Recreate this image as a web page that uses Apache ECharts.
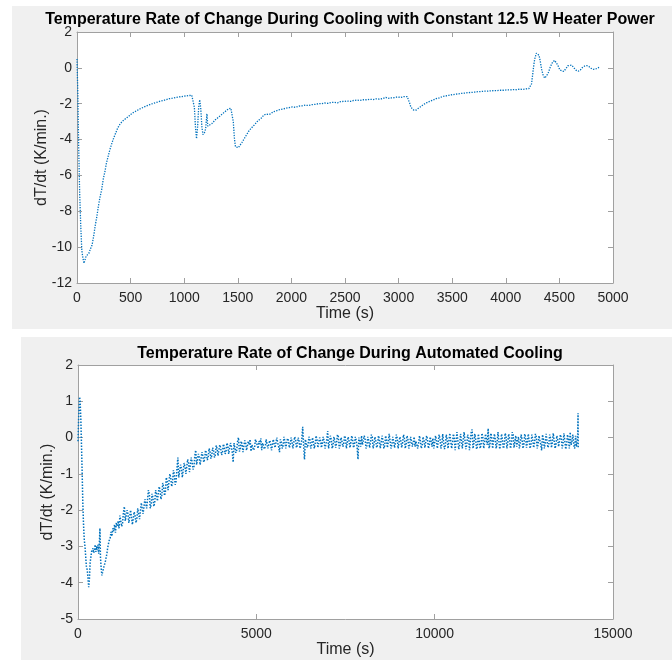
<!DOCTYPE html>
<html>
<head>
<meta charset="utf-8">
<script src="https://cdn.jsdelivr.net/npm/echarts@6/dist/echarts.min.js"></script>
<style>
html,body{margin:0;padding:0;background:#fff;}
#chart{width:672px;height:660px;}
</style>
</head>
<body>
<div id="chart"></div>
<script>
// ---- Data ----
const title1 = "Temperature Rate of Change During Cooling with Constant 12.5 W Heater Power";
const title2 = "Temperature Rate of Change During Automated Cooling";
const xLabel = "Time (s)";
const yLabel = "dT/dt (K/min.)";

const xTicks1 = [0, 5000, 500];   // min, max, step
const yTicks1 = [-12, 2, 2];
const xTicks2 = [0, 15000, 5000];
const yTicks2 = [-5, 2, 1];

// Top chart: constant heater power [time s, dT/dt]
const heaterSeries = [
[0,0.5],[8,-1.5],[15,-4.2],[25,-7.0],[35,-8.8],[45,-10.2],[55,-10.6],[65,-10.9],[75,-10.7],[85,-10.5],[95,-10.55],[110,-10.35],[125,-10.1],[140,-9.9],[155,-9.4],[170,-8.8],[185,-8.3],[200,-7.7],[215,-7.2],[230,-6.8],[245,-6.2],[260,-5.8],[275,-5.3],[290,-4.95],[305,-4.6],[320,-4.3],[340,-3.95],[360,-3.65],[380,-3.35],[400,-3.15],[420,-3.0],[440,-2.9],[460,-2.8],[480,-2.72],[500,-2.6],[530,-2.47],[560,-2.38],[590,-2.28],[620,-2.2],[650,-2.12],[680,-2.05],[710,-1.98],[740,-1.93],[770,-1.87],[800,-1.83],[830,-1.78],[860,-1.72],[890,-1.69],[920,-1.65],[950,-1.62],[980,-1.6],[1010,-1.57],[1040,-1.55],[1070,-1.52],[1085,-1.56],[1095,-2.2],[1105,-3.3],[1115,-3.95],[1125,-3.3],[1135,-2.2],[1145,-1.78],[1155,-2.3],[1165,-3.3],[1175,-3.72],[1190,-3.6],[1200,-3.4],[1212,-2.56],[1220,-3.25],[1232,-3.3],[1260,-3.1],[1290,-2.9],[1320,-2.75],[1350,-2.6],[1380,-2.45],[1410,-2.3],[1435,-2.25],[1448,-2.3],[1458,-3.0],[1468,-3.9],[1478,-4.4],[1490,-4.5],[1505,-4.45],[1520,-4.35],[1540,-4.15],[1560,-3.95],[1580,-3.75],[1600,-3.55],[1620,-3.4],[1640,-3.27],[1660,-3.15],[1680,-3.0],[1700,-2.9],[1720,-2.8],[1740,-2.65],[1760,-2.58],[1775,-2.48],[1790,-2.6],[1810,-2.55],[1830,-2.45],[1860,-2.4],[1890,-2.33],[1920,-2.3],[1950,-2.25],[1980,-2.22],[2010,-2.18],[2040,-2.2],[2070,-2.13],[2100,-2.12],[2130,-2.08],[2160,-2.1],[2190,-2.05],[2220,-2.04],[2250,-2.0],[2280,-2.0],[2310,-1.96],[2340,-1.98],[2370,-1.93],[2400,-1.92],[2430,-1.95],[2460,-1.88],[2490,-1.87],[2520,-1.85],[2550,-1.87],[2580,-1.82],[2610,-1.8],[2640,-1.82],[2670,-1.78],[2700,-1.78],[2730,-1.75],[2760,-1.77],[2790,-1.73],[2820,-1.74],[2850,-1.72],[2880,-1.65],[2900,-1.7],[2930,-1.68],[2960,-1.66],[2990,-1.62],[3020,-1.65],[3050,-1.6],[3080,-1.6],[3095,-1.58],[3105,-2.0],[3115,-2.2],[3125,-2.15],[3140,-2.35],[3150,-2.43],[3165,-2.35],[3185,-2.25],[3205,-2.17],[3230,-2.05],[3260,-1.95],[3290,-1.87],[3320,-1.8],[3350,-1.72],[3380,-1.67],[3410,-1.6],[3440,-1.57],[3470,-1.53],[3500,-1.5],[3530,-1.47],[3560,-1.45],[3590,-1.42],[3620,-1.41],[3650,-1.38],[3680,-1.37],[3710,-1.35],[3740,-1.33],[3770,-1.32],[3800,-1.3],[3830,-1.3],[3860,-1.28],[3890,-1.27],[3920,-1.27],[3950,-1.25],[3980,-1.25],[4010,-1.23],[4040,-1.23],[4070,-1.21],[4100,-1.22],[4130,-1.19],[4160,-1.2],[4190,-1.17],[4215,-1.16],[4230,-1.1],[4240,-0.9],[4250,-0.4],[4260,0.1],[4270,0.5],[4285,0.82],[4298,0.9],[4310,0.7],[4322,0.35],[4335,-0.1],[4350,-0.45],[4365,-0.57],[4378,-0.55],[4395,-0.3],[4415,0.05],[4435,0.3],[4455,0.42],[4470,0.38],[4485,0.15],[4505,-0.12],[4520,-0.23],[4540,-0.2],[4560,-0.05],[4580,0.12],[4598,0.2],[4615,0.15],[4635,0.0],[4655,-0.13],[4675,-0.19],[4695,-0.12],[4715,0.02],[4735,0.1],[4755,0.13],[4775,0.08],[4795,-0.02],[4815,-0.08],[4835,-0.07],[4855,-0.02],[4870,0.03]
];

// Bottom chart: automated cooling [time s, dT/dt]
const autoSeries = [
[0,-0.1],[20,0.6],[45,1.12],[60,1.0],[80,0.5],[100,-0.3],[115,-0.9],[135,-1.8],[155,-2.4],[175,-2.8],[200,-3.05],[215,-3.1],[235,-3.55],[260,-3.65],[280,-3.7],[300,-4.12],[320,-3.9],[340,-3.45],[360,-3.3],[380,-3.15],[400,-3.2],[420,-3.05],[440,-3.18],[460,-3.1],[480,-2.95],[500,-3.15],[520,-3.0],[540,-3.1],[560,-2.95],[580,-3.2],[600,-2.9],[615,-2.5],[630,-3.3],[650,-3.6],[670,-3.8],[690,-3.7],[710,-3.75],[730,-3.55],[750,-3.6],[770,-3.4],[790,-3.3],[810,-3.2],[830,-3.05],[850,-2.95],[870,-2.85],[890,-2.8],
[900,-2.78],[925,-2.6],[950,-2.72],[975,-2.5],[1000,-2.58],[1025,-2.4],[1050,-2.62],[1075,-2.35],[1100,-2.45],[1125,-2.3],[1150,-2.5],[1175,-2.15],[1200,-2.2],[1225,-2.45],[1250,-2.35],[1275,-2.05],[1300,-1.9],[1325,-2.3],[1350,-2.25],[1375,-2.0],[1400,-2.1],[1425,-2.35],[1450,-2.3],[1475,-2.0],[1500,-2.05],[1525,-2.4],[1550,-2.35],[1575,-2.05],[1600,-2.15],[1625,-2.35],[1650,-2.25],[1675,-1.95],[1700,-2.0],[1725,-2.25],[1750,-2.2],[1775,-1.8],[1800,-1.85],[1825,-2.1],[1850,-2.05],[1875,-1.7],[1900,-1.75],[1925,-1.95],[1950,-1.9],[1975,-1.45],[2000,-1.55],[2025,-1.95],[2050,-1.85],[2075,-1.55],[2100,-1.65],[2125,-1.9],[2150,-1.8],[2175,-1.45],[2200,-1.55],[2225,-1.75],[2250,-1.7],[2275,-1.35],[2300,-1.45],[2325,-1.7],[2350,-1.6],[2375,-1.25],[2400,-1.35],[2425,-1.6],[2450,-1.5],[2475,-1.1],[2500,-1.2],[2525,-1.45],[2550,-1.4],[2575,-1.0],[2600,-1.1],[2625,-1.35],[2650,-1.25],[2675,-0.9],[2700,-1.0],[2725,-1.3],[2750,-1.2],[2775,-0.85],[2800,-0.55],[2825,-1.1],[2850,-1.15],[2875,-0.75],[2900,-0.85],[2925,-1.1],[2950,-1.05],[2975,-0.7],[3000,-0.8],[3025,-1.0],[3050,-0.95],[3075,-0.6],[3100,-0.7],[3125,-0.95],[3150,-0.9],[3175,-0.55],[3200,-0.68],[3225,-0.88],[3250,-0.82],[3275,-0.5],[3300,-0.35],[3325,-0.75],[3350,-0.72],[3375,-0.45],[3400,-0.55],[3425,-0.75],[3450,-0.7],[3475,-0.4],[3500,-0.5],[3525,-0.68],[3550,-0.6],[3575,-0.35],[3600,-0.42],[3625,-0.62],[3650,-0.55],[3675,-0.3],[3700,-0.38],[3725,-0.58],[3750,-0.5],[3775,-0.28],[3800,-0.35],[3825,-0.55],[3850,-0.48],[3875,-0.22],[3900,-0.3],[3925,-0.5],[3950,-0.45],[3975,-0.2],[4000,-0.28],[4025,-0.48],[4050,-0.42],[4075,-0.18],[4100,-0.25],[4125,-0.45],[4150,-0.38],[4175,-0.15],[4200,-0.22],[4225,-0.45],[4250,-0.4],[4275,-0.15],[4300,-0.25],[4325,-0.4],[4350,-0.68],[4375,-0.15],[4400,-0.2],[4425,-0.42],[4450,-0.35],[4475,-0.1],[4500,0.0],[4525,-0.38],[4550,-0.32],[4575,-0.1],[4600,-0.18],[4625,-0.4],[4650,-0.35],[4675,-0.08],[4700,-0.15],[4725,-0.35],[4750,-0.3],[4775,-0.1],[4800,-0.2],[4825,-0.05],[4850,-0.38],[4875,-0.2],[4900,-0.15],[4925,-0.35],[4950,-0.28],[4975,-0.05],
[5000,-0.12],[5050,-0.3],[5075,-0.1],[5100,-0.18],[5125,-0.02],[5150,-0.35],[5175,-0.15],[5200,-0.2],[5225,-0.32],[5250,-0.25],[5275,-0.05],[5300,-0.1],[5325,-0.3],[5350,-0.28],[5375,-0.08],[5400,-0.15],[5425,-0.35],[5450,-0.3],[5475,-0.05],[5500,-0.08],[5525,-0.28],[5550,-0.25],[5575,0.0],[5600,-0.15],[5625,-0.25],[5650,-0.4],[5675,-0.05],[5700,-0.12],[5725,-0.3],[5750,-0.22],[5775,0.02],[5800,-0.1],[5825,-0.3],[5850,-0.28],[5875,-0.02],[5900,-0.08],[5925,-0.28],[5950,-0.2],[5975,0.0],[6000,-0.12],[6025,-0.3],[6050,-0.25],[6075,0.02],[6100,-0.05],[6125,-0.28],[6150,-0.2],[6175,0.0],[6200,-0.1],[6225,-0.3],[6250,-0.22],[6275,-0.05],[6300,0.3],[6325,-0.2],[6350,-0.6],[6375,-0.05],[6400,-0.1],[6425,-0.28],[6450,-0.2],[6475,0.02],[6500,-0.05],[6525,-0.3],[6550,-0.22],[6575,0.0],[6600,-0.12],[6625,-0.3],[6650,-0.18],[6675,0.05],[6700,-0.05],[6725,-0.28],[6750,-0.25],[6775,0.0],[6800,-0.08],[6825,-0.28],[6850,-0.15],[6875,0.02],[6900,-0.1],[6925,-0.3],[6950,-0.2],[6975,-0.05],[7000,0.18],[7025,-0.3],[7050,-0.15],[7075,0.05],[7100,-0.05],[7125,-0.3],[7150,-0.22],[7175,0.02],[7200,-0.08],[7225,-0.28],[7250,-0.15],[7275,0.08],[7300,0.02],[7325,-0.3],[7350,-0.2],[7375,0.0],[7400,-0.1],[7425,-0.25],[7450,-0.18],[7475,0.05],[7500,-0.02],[7525,-0.3],[7550,-0.25],[7575,0.02],[7600,-0.1],[7625,-0.28],[7650,-0.15],[7675,0.05],[7700,-0.05],[7725,-0.28],[7750,-0.2],[7775,0.02],[7800,-0.08],[7825,-0.25],[7850,-0.6],[7875,0.0],[7900,-0.1],[7925,-0.25],[7950,0.05],[7975,-0.2],
[8000,-0.15],[8025,0.05],[8050,-0.05],[8075,-0.3],[8100,-0.22],[8125,0.02],[8150,-0.08],[8175,-0.28],[8200,-0.15],[8225,0.08],[8250,0.02],[8275,-0.3],[8300,-0.18],[8325,0.02],[8350,-0.1],[8375,-0.28],[8400,-0.2],[8425,0.05],[8450,-0.05],[8475,-0.3],[8500,-0.15],[8525,0.05],[8550,-0.08],[8575,-0.3],[8600,-0.22],[8625,0.05],[8650,-0.05],[8675,-0.28],[8700,-0.12],[8725,0.1],[8750,0.05],[8775,-0.3],[8800,-0.2],[8825,0.02],[8850,-0.1],[8875,-0.28],[8900,-0.15],[8925,0.08],[8950,-0.02],[8975,-0.3],[9000,-0.25],[9025,0.02],[9050,-0.08],[9075,-0.28],[9100,-0.15],[9125,0.08],[9150,0.0],[9175,-0.3],[9200,-0.18],[9225,0.05],[9250,-0.05],[9275,-0.3],[9300,-0.2],[9325,0.02],[9350,-0.1],[9375,-0.25],[9400,-0.12],[9425,0.02],[9450,-0.25],[9475,-0.1],[9500,-0.05],[9525,-0.3],[9550,-0.15],[9575,0.05],[9600,-0.1],[9625,-0.3],[9650,-0.2],[9675,0.02],[9700,-0.08],[9725,-0.28],[9750,-0.12],[9775,0.05],[9800,-0.05],[9825,-0.3],[9850,-0.2],[9875,0.02],[9900,-0.1],[9925,-0.25],[9950,-0.02],[9975,-0.3],
[10000,-0.15],[10025,0.05],[10050,-0.08],[10075,-0.3],[10100,-0.28],[10125,0.08],[10150,-0.05],[10175,-0.3],[10200,-0.2],[10225,0.1],[10250,0.05],[10275,-0.32],[10300,-0.22],[10325,0.08],[10350,-0.05],[10375,-0.3],[10400,-0.25],[10425,0.12],[10450,0.1],[10475,-0.3],[10500,-0.15],[10525,0.1],[10550,-0.02],[10575,-0.35],[10600,-0.3],[10625,0.15],[10650,0.12],[10675,-0.32],[10700,-0.2],[10725,0.1],[10750,-0.05],[10775,-0.3],[10800,-0.25],[10825,0.15],[10850,0.1],[10875,-0.32],[10900,-0.2],[10925,0.08],[10950,0.02],[10975,-0.35],[11000,-0.3],[11025,0.15],[11050,0.22],[11075,-0.3],[11100,-0.15],[11125,0.1],[11150,-0.05],[11175,-0.32],[11200,-0.25],[11225,0.1],[11250,0.05],[11275,-0.3],[11300,-0.2],[11325,0.12],[11350,0.02],[11375,-0.3],[11400,-0.15],[11425,0.1],[11450,-0.05],[11475,-0.2],[11500,0.25],[11525,-0.3],[11550,-0.2],[11575,0.12],[11600,0.0],[11625,-0.3],[11650,-0.25],[11675,0.1],[11700,-0.05],[11725,-0.3],[11750,-0.15],[11775,0.15],[11800,0.1],[11825,-0.32],[11850,-0.18],[11875,0.1],[11900,-0.05],[11925,-0.3],[11950,-0.22],[11975,0.12],
[12000,0.05],[12025,-0.3],[12050,-0.15],[12075,0.1],[12100,-0.02],[12125,-0.3],[12150,-0.2],[12175,0.15],[12200,0.08],[12225,-0.28],[12250,-0.1],[12275,0.05],[12300,-0.25],[12325,-0.1],[12350,0.02],[12375,-0.3],[12400,-0.15],[12425,0.08],[12450,-0.05],[12475,-0.3],[12500,-0.2],[12525,0.1],[12550,0.0],[12575,-0.28],[12600,-0.12],[12625,0.1],[12650,0.05],[12675,-0.3],[12700,-0.2],[12725,0.08],[12750,-0.05],[12775,-0.28],[12800,-0.15],[12825,0.1],[12850,0.02],[12875,-0.3],[12900,-0.18],[12925,0.05],[12950,-0.08],[12975,-0.2],[13000,-0.35],[13025,0.08],[13050,-0.05],[13075,-0.3],[13100,-0.15],[13125,0.1],[13150,0.05],[13175,-0.28],[13200,-0.2],[13225,0.08],[13250,-0.02],[13275,-0.28],[13300,-0.12],[13325,0.12],[13350,0.08],[13375,-0.3],[13400,-0.2],[13425,0.05],[13450,-0.05],[13475,-0.25],[13500,-0.3],[13525,0.08],[13550,0.0],[13575,-0.3],[13600,-0.15],[13625,0.12],[13650,0.1],[13675,-0.32],[13700,-0.2],[13725,0.08],[13750,-0.05],[13775,-0.3],[13800,0.15],[13825,-0.2],[13850,-0.1],[13875,0.08],[13900,-0.2],[13925,-0.3],[13950,0.05],[13975,-0.25],[14000,-0.08],[14010,0.1],[14020,0.67],[14025,-0.3]
];

// ---- Chart ----
const FONT = "'Liberation Sans', Arial, sans-serif";
const AXIS_COLOR = '#a0a0a0';
const LABEL_COLOR = '#262626';
const LINE_COLOR = '#0072BD';

function plain(v) { return String(v); }

function baseAxis(gridIndex, range, extra) {
  return Object.assign({
    type: 'value',
    gridIndex: gridIndex,
    min: range[0], max: range[1], interval: range[2],
    splitLine: {show: false},
    axisLine: {show: true, onZero: false, lineStyle: {color: AXIS_COLOR, width: 1}},
    axisTick: {show: true, inside: true, length: 5, lineStyle: {color: AXIS_COLOR}},
    axisLabel: {color: LABEL_COLOR, fontSize: 14, fontFamily: FONT, margin: 8, formatter: plain},
  }, extra || {});
}

const nameStyle = {fontSize: 16, color: LABEL_COLOR, fontFamily: FONT};
const yLabelStyle = {color: LABEL_COLOR, fontSize: 14, fontFamily: FONT, margin: 5, formatter: plain};

const chart = echarts.init(document.getElementById('chart'), null, {renderer: 'canvas'});
const option = {
  animation: false,
  backgroundColor: '#ffffff',
  graphic: [
    {type: 'rect', z: -10, shape: {x: 12, y: 6, width: 660, height: 323}, style: {fill: '#f0f0f0'}},
    {type: 'rect', z: -10, shape: {x: 21, y: 337, width: 651, height: 323}, style: {fill: '#f0f0f0'}}
  ],
  title: [
    {text: title1, left: 345, top: 7, textAlign: 'center',
     textStyle: {fontSize: 16, fontWeight: 'bold', color: '#000', fontFamily: FONT}},
    {text: title2, left: 345, top: 341, textAlign: 'center',
     textStyle: {fontSize: 16, fontWeight: 'bold', color: '#000', fontFamily: FONT}}
  ],
  grid: [
    {left: 77, top: 32, width: 536, height: 251, show: true, backgroundColor: '#ffffff', borderWidth: 0},
    {left: 78, top: 365, width: 535, height: 254, show: true, backgroundColor: '#ffffff', borderWidth: 0}
  ],
  xAxis: [
    baseAxis(0, xTicks1, {position: 'bottom', name: xLabel, nameLocation: 'middle', nameGap: 22, nameTextStyle: nameStyle}),
    baseAxis(0, xTicks1, {position: 'top', axisLabel: {show: false}}),
    baseAxis(1, xTicks2, {position: 'bottom', name: xLabel, nameLocation: 'middle', nameGap: 20, nameTextStyle: nameStyle}),
    baseAxis(1, xTicks2, {position: 'top', axisLabel: {show: false}})
  ],
  yAxis: [
    baseAxis(0, yTicks1, {position: 'left', name: yLabel, nameLocation: 'middle', nameGap: 27, nameRotate: 90,
      nameMoveOverlap: false, nameTextStyle: nameStyle, axisLabel: yLabelStyle}),
    baseAxis(0, yTicks1, {position: 'right', axisLabel: {show: false}}),
    baseAxis(1, yTicks2, {position: 'left', name: yLabel, nameLocation: 'middle', nameGap: 22, nameRotate: 90,
      nameMoveOverlap: false, nameTextStyle: nameStyle, axisLabel: yLabelStyle}),
    baseAxis(1, yTicks2, {position: 'right', axisLabel: {show: false}})
  ],
  series: [
    {type: 'line', xAxisIndex: 0, yAxisIndex: 0, data: heaterSeries, showSymbol: false,
     lineStyle: {color: LINE_COLOR, width: 1.3, type: 'dotted'}},
    {type: 'line', xAxisIndex: 2, yAxisIndex: 2, data: autoSeries, showSymbol: false,
     lineStyle: {color: LINE_COLOR, width: 1.5, type: 'dotted'}}
  ]
};
chart.setOption(option);
</script>
</body>
</html>
